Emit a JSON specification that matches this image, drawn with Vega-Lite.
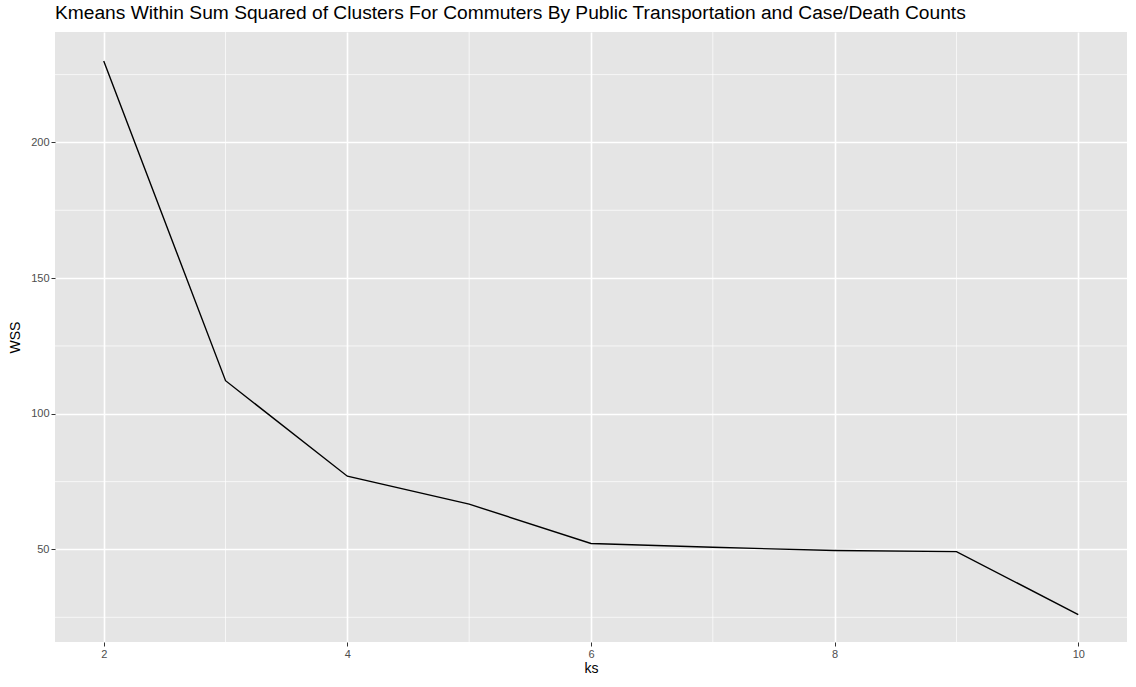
{
  "$schema": "https://vega.github.io/schema/vega-lite/v6.json",
  "width": 1136,
  "height": 687,
  "autosize": {"type": "fit", "contains": "padding"},
  "background": "white",
  "padding": {"left": 8, "right": 8, "top": 4, "bottom": 12},
  "title": {
    "text": "Kmeans Within Sum Squared of Clusters For Commuters By Public Transportation and Case/Death Counts",
    "anchor": "start",
    "frame": "group",
    "font": "Liberation Sans",
    "fontSize": 19.2,
    "fontWeight": "normal",
    "color": "black",
    "offset": 8
  },
  "config": {
    "view": {"fill": "#e5e5e5", "stroke": null},
    "axis": {
      "labelFont": "Liberation Sans",
      "labelFontSize": 11,
      "labelColor": "#4d4d4d",
      "titleFont": "Liberation Sans",
      "titleFontSize": 14,
      "titleFontWeight": "normal",
      "titleColor": "black",
      "domain": false,
      "tickColor": "#333333",
      "tickSize": 4,
      "gridColor": "white",
      "gridWidth": 1.6
    }
  },
  "layer": [
    {
      "data": {"values": [{"k": 3}, {"k": 5}, {"k": 7}, {"k": 9}]},
      "mark": {"type": "rule", "color": "white", "strokeWidth": 0.7},
      "encoding": {
        "x": {"field": "k", "type": "quantitative", "scale": {"domain": [1.6, 10.4], "nice": false, "zero": false}}
      }
    },
    {
      "data": {"values": [{"w": 25}, {"w": 75}, {"w": 125}, {"w": 175}, {"w": 225}]},
      "mark": {"type": "rule", "color": "white", "strokeWidth": 0.7},
      "encoding": {
        "y": {"field": "w", "type": "quantitative", "scale": {"domain": [15.9, 240.7], "nice": false, "zero": false}}
      }
    },
    {
      "data": {"values": [
        {"ks": 2, "WSS": 230},
        {"ks": 3, "WSS": 112.2},
        {"ks": 4, "WSS": 77},
        {"ks": 5, "WSS": 66.7},
        {"ks": 6, "WSS": 52.2},
        {"ks": 7, "WSS": 50.8},
        {"ks": 8, "WSS": 49.6},
        {"ks": 9, "WSS": 49.2},
        {"ks": 10, "WSS": 26}
      ]},
      "mark": {"type": "line", "color": "black", "strokeWidth": 1.4},
      "encoding": {
        "x": {"field": "ks", "type": "quantitative", "title": "ks",
          "scale": {"domain": [1.6, 10.4], "nice": false, "zero": false},
          "axis": {"values": [2, 4, 6, 8, 10], "format": "d", "titlePadding": 2}},
        "y": {"field": "WSS", "type": "quantitative", "title": "WSS",
          "scale": {"domain": [15.9, 240.7], "nice": false, "zero": false},
          "axis": {"values": [50, 100, 150, 200], "format": "d", "titlePadding": 8}}
      }
    }
  ]
}
